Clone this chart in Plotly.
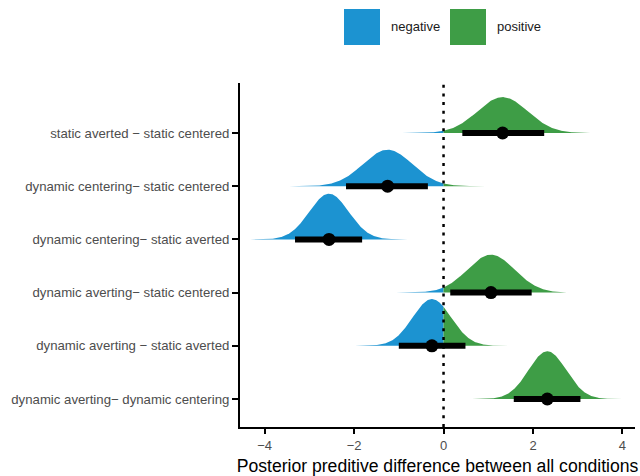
import numpy as np
import plotly.graph_objects as go

# ---- data (top row first) ----
labels = [
    "static averted \u2212 static centered",
    "dynamic centering\u2212 static centered",
    "dynamic centering\u2212 static averted",
    "dynamic averting\u2212 static centered",
    "dynamic averting \u2212 static averted",
    "dynamic averting\u2212 dynamic centering",
]
medians = [1.32, -1.25, -2.56, 1.06, -0.26, 2.32]
lower = [0.42, -2.18, -3.32, 0.15, -1.00, 1.57]
upper = [2.25, -0.35, -1.82, 1.97, 0.49, 3.06]
sds = [0.56, 0.55, 0.44, 0.53, 0.43, 0.42]
legend_names = ["negative", "positive"]

BLUE = "#1C93D1"
GREEN = "#3E9D46"

n = len(labels)
rows = [n - i for i in range(n)]  # numeric y position, top row = n
sd_min = min(sds)
scale = 0.9

fig = go.Figure()


def poly(xs, ys, base):
    px = list(xs) + list(xs[::-1])
    py = list(ys) + [base] * len(xs)
    return px, py


for lab, mu, sd, yb in zip(labels, medians, sds, rows):
    x = np.linspace(mu - 4 * sd, mu + 4 * sd, 400)
    x = np.unique(np.append(x, 0.0)) if (mu - 4 * sd) < 0 < (mu + 4 * sd) else x
    d = scale * (sd_min / sd) * np.exp(-0.5 * ((x - mu) / sd) ** 2)
    for mask, col in ((x <= 0, BLUE), (x >= 0, GREEN)):
        if mask.sum() < 2:
            continue
        xs = x[mask]
        ys = yb + d[mask]
        px, py = poly(xs, ys, yb)
        fig.add_trace(go.Scatter(x=px, y=py, fill="toself", fillcolor=col,
                                 mode="lines", line=dict(width=0, color=col),
                                 hoverinfo="skip", showlegend=False))

# intervals
for lo, hi, yb in zip(lower, upper, rows):
    fig.add_trace(go.Scatter(x=[lo, hi], y=[yb, yb], mode="lines",
                             line=dict(color="black", width=6),
                             hoverinfo="skip", showlegend=False))
# points
fig.add_trace(go.Scatter(x=medians, y=rows, mode="markers",
                         marker=dict(color="black", size=13),
                         hoverinfo="skip", showlegend=False))

# dotted zero line
fig.add_shape(type="line", x0=0, x1=0, y0=0, y1=1, xref="x", yref="paper",
              line=dict(color="black", width=2.5, dash="3px,5.7px"), layer="above")

W, H = 640, 476
ml, mr, mt, mb = 240, 5, 83, 49
pw, ph = W - ml - mr, H - mt - mb


def px2x(p):
    return (p - ml) / pw


def py2y(p):
    return (H - mb - p) / ph


# manual legend
leg_cols = [BLUE, GREEN]
leg_x = [344, 450]
for name, col, lx in zip(legend_names, leg_cols, leg_x):
    fig.add_shape(type="rect", xref="paper", yref="paper",
                  x0=px2x(lx), x1=px2x(lx + 36), y0=py2y(45), y1=py2y(9),
                  fillcolor=col, line=dict(width=0))
    fig.add_annotation(text=name, xref="paper", yref="paper",
                       x=px2x(lx + 45), y=py2y(27), xanchor="left", yanchor="middle",
                       showarrow=False, font=dict(size=13, color="#1a1a1a"))

fig.update_layout(
    width=W, height=H,
    margin=dict(l=ml, r=mr, t=mt, b=mb),
    plot_bgcolor="white", paper_bgcolor="white",
    font=dict(family="Liberation Sans, Arial, sans-serif"),
    showlegend=False,
    xaxis=dict(range=[-4.55, 4.28], tickvals=[-4, -2, 0, 2, 4], showgrid=False,
               zeroline=False, showline=True, linecolor="black", linewidth=2,
               ticks="outside", ticklen=5, tickwidth=1.5, tickcolor="black",
               tickfont=dict(size=13, color="#4D4D4D"), automargin=False,
               title=dict(text="Posterior preditive difference between all conditions",
                          font=dict(size=17.6, color="black"), standoff=8)),
    yaxis=dict(range=[0.474, 6.94], tickvals=rows, ticktext=labels, showgrid=False,
               zeroline=False, showline=True, linecolor="black", linewidth=2,
               ticks="outside", ticklen=6, tickwidth=1.5, tickcolor="black",
               tickfont=dict(size=13.2, color="#4D4D4D"), automargin=False),
)

fig.write_html("out.html", config={"displayModeBar": False},
               post_script="document.body.style.margin='0';")
